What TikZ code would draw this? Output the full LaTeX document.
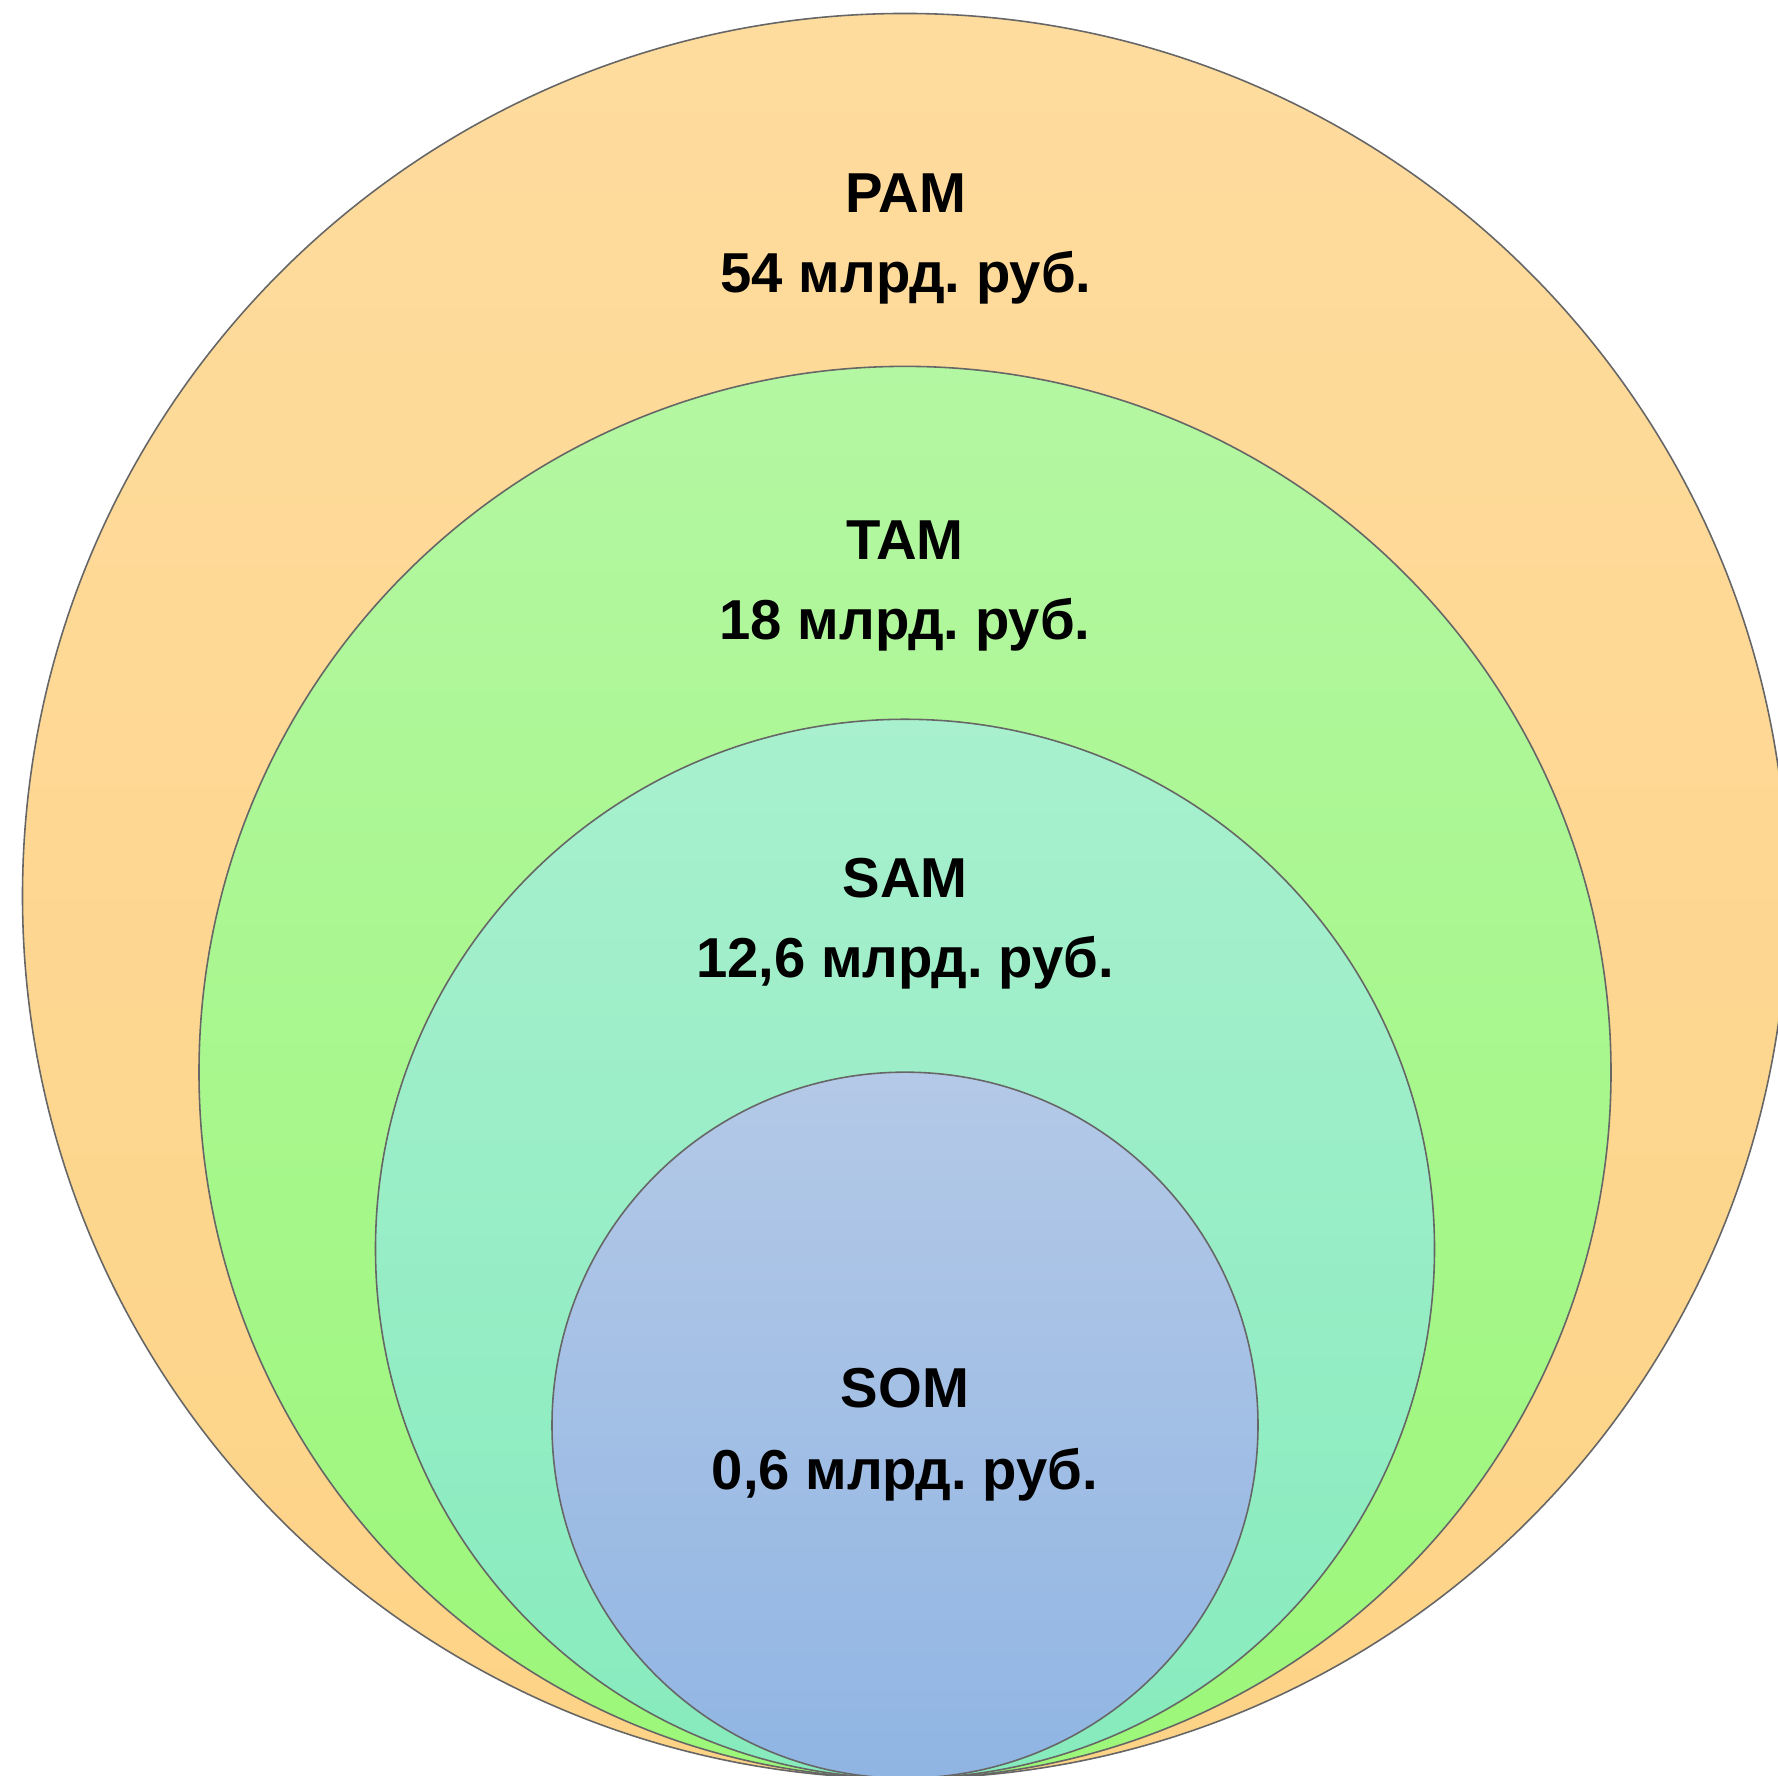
\documentclass[tikz,border=0pt]{standalone}
\usepackage{fontspec}
\setmainfont{Liberation Sans}
\frenchspacing
\definecolor{pamtop}{HTML}{FEDC9E}
\definecolor{pambot}{HTML}{FDD386}
\definecolor{tamtop}{HTML}{B4F7A2}
\definecolor{tambot}{HTML}{9CF779}
\definecolor{samtop}{HTML}{A8F0CE}
\definecolor{sambot}{HTML}{86EBBD}
\definecolor{somtop}{HTML}{B4C9E7}
\definecolor{sombot}{HTML}{90B5E3}
\tikzset{
  ring/.style={draw=black!60, line width=0.45pt},
  lbl/.style={anchor=base, inner sep=0pt, font=\fontsize{16}{19}\selectfont\bfseries\frenchspacing, text=black}
}
\begin{document}
\begin{tikzpicture}[x=0.01cm,y=0.01cm]
\useasboundingbox (0,0) rectangle (1778,1776);
\clip (0,0) rectangle (1778,1776);
\path[ring, top color=pamtop, bottom color=pambot] (905,880) circle[radius=8.82cm];
\path[ring, top color=tamtop, bottom color=tambot] (905,703.6) circle[radius=7.056cm];
\path[ring, top color=samtop, bottom color=sambot] (905,527.2) circle[radius=5.292cm];
\path[ring, top color=somtop, bottom color=sombot] (905,350.8) circle[radius=3.528cm];
\node[lbl] (pamt) at (906,1563) {PAM};
\node[lbl] (pamv) at (906,1483) {54 млрд. руб.};
\node[lbl] (tamt) at (905,1216) {TAM};
\node[lbl] (tamv) at (905,1136) {18 млрд. руб.};
\node[lbl] (samt) at (905,878) {SAM};
\node[lbl] (samv) at (905,798) {12,6 млрд. руб.};
\node[lbl] (somt) at (905,368) {SOM};
\node[lbl] (somv) at (905,286) {0,6 млрд. руб.};
\end{tikzpicture}
\end{document}
